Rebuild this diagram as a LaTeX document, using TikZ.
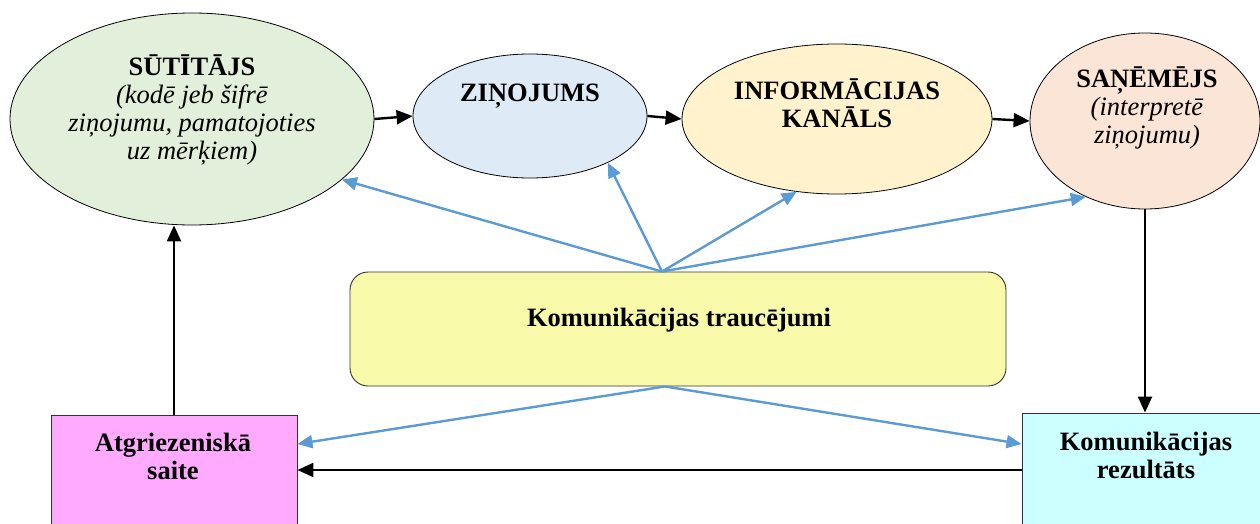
\documentclass[tikz,border=0pt]{standalone}
\usepackage{fontspec}
\setmainfont{Liberation Serif}
\usetikzlibrary{shapes.geometric,arrows.meta,calc}
\definecolor{sendfill}{RGB}{226,239,218}
\definecolor{msgfill}{RGB}{222,235,247}
\definecolor{chanfill}{RGB}{255,242,204}
\definecolor{recvfill}{RGB}{251,229,214}
\definecolor{noisefill}{RGB}{249,249,170}
\definecolor{backfill}{RGB}{255,170,255}
\definecolor{resfill}{RGB}{204,255,255}
\definecolor{noiseline}{RGB}{91,155,213}
\tikzset{
  oval/.style={ellipse, draw=black, line width=0.8pt, inner sep=0pt},
  boxnode/.style={rectangle, draw=black!80, line width=0.9pt, inner sep=0pt},
  label text/.style={inner sep=0pt, align=center, font=\rmfamily\fontsize{26.5}{28}\selectfont},
  flow/.style={line width=2.4pt, -{Triangle[length=16pt,width=14pt]}},
  noise/.style={line width=2.4pt, draw=noiseline, -{Triangle[length=15pt,width=13pt]}, color=noiseline},
}
\begin{document}
\begin{tikzpicture}[x=1pt,y=-1pt]
\useasboundingbox (0,0) rectangle (1260,524);
\clip (0,0) rectangle (1260,524);

% the four stages of the message
\node[oval, fill=sendfill, minimum width=364pt, minimum height=212pt] (snd) at (192,119) {};
\node[oval, fill=msgfill, minimum width=234pt, minimum height=124pt] (msg) at (530,116) {};
\node[oval, fill=chanfill, minimum width=310pt, minimum height=150pt] (chan) at (837,119) {};
\node[oval, fill=recvfill, minimum width=230pt, minimum height=176pt] (rcv) at (1145,121) {};

\node[label text] (sndtxt) at (192,110) {\textbf{SŪTĪTĀJS}\\\textit{(kodē jeb šifrē}\\\textit{ziņojumu, pamatojoties}\\\textit{uz mērķiem)}};
\node[label text] (msgtxt) at (530,96) {\textbf{ZIŅOJUMS}};
\node[label text] (chantxt) at (837,103) {\textbf{INFORMĀCIJAS}\\\textbf{KANĀLS}};
\node[label text] (rcvtxt) at (1147,108) {\textbf{SAŅĒMĒJS}\\\textit{(interpretē}\\\textit{ziņojumu)}};

% noise block
\node[rectangle, rounded corners=18pt, draw=black!80, line width=0.9pt, fill=noisefill,
      minimum width=656pt, minimum height=114pt] (noisebox) at (678,329) {};
\node[label text] (noisetxt) at (679,320) {\textbf{Komunikācijas traucējumi}};

% feedback and result boxes
\node[boxnode, fill=backfill, minimum width=246pt, minimum height=110pt] (back) at (174,470) {};
\node[boxnode, fill=resfill, minimum width=250pt, minimum height=114pt] (res) at (1147,470) {};
\node[label text] (backtxt) at (173,456) {\textbf{Atgriezeniskā}\\\textbf{saite}};
\node[label text] (restxt) at (1146,455) {\textbf{Komunikācijas}\\\textbf{rezultāts}};

% main flow
\draw[flow] (snd.east) -- (msg.west);
\draw[flow] (msg.east) -- (chan.west);
\draw[flow] (chan.east) -- (rcv.west);
\draw[flow] (rcv.south) -- (rcv.south |- res.north);
\draw[flow] (res.west) -- (back.east);
\draw[flow] (back.north) -- (back.north |- snd.south);

% noise influences
\coordinate (ntop) at ($(noisebox.north)+(-16,0)$);
\coordinate (nbot) at ($(noisebox.south)+(-13,0)$);
\draw[noise] (ntop) -- (snd.-22);
\draw[noise] (ntop) -- (msg.-31);
\draw[noise] (ntop) -- (chan.-119);
\draw[noise] (ntop) -- (rcv.-128);
\draw[noise] (nbot) -- ($(back.east)+(0,-26)$);
\draw[noise] (nbot) -- ($(res.west)+(0,-26)$);
\end{tikzpicture}
\end{document}
